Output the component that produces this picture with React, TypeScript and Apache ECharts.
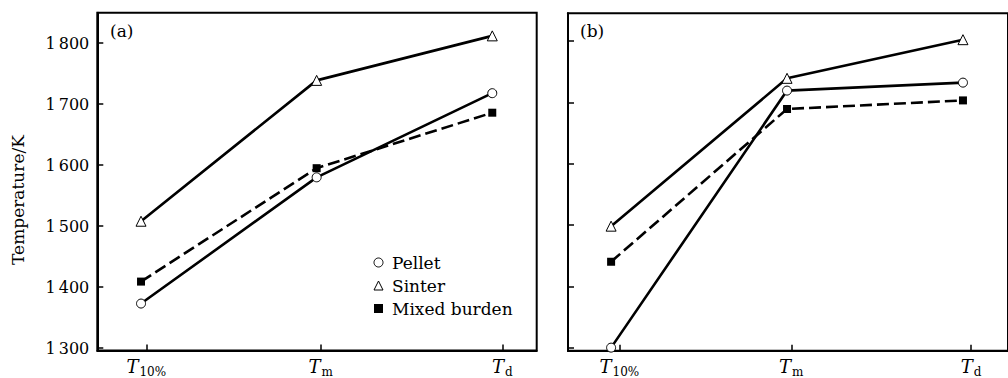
import React, { useEffect, useRef } from "react";
import * as echarts from "echarts";

const categories = ["10%", "m", "d"];
const xPositions = [0, 1, 2];
const tickPositionsA = [0.03, 1.023, 2.057];
const tickPositionsB = [0.047, 1.024, 2.046];
const yTicks = [1300, 1400, 1500, 1600, 1700, 1800];
const seriesNames = ["Pellet", "Sinter", "Mixed burden"];
const pelletA = [1373, 1580, 1718];
const sinterA = [1508, 1739, 1812];
const mixedA = [1409, 1595, 1686];
const pelletB = [1300, 1719, 1732];
const sinterB = [1498, 1739, 1802];
const mixedB = [1440, 1689, 1703];

const FONT = "DejaVu Serif";

function xAxisFor(gridIndex: number, ticks: number[], min: number, max: number) {
  return {
    type: "value",
    gridIndex,
    min,
    max,
    splitLine: { show: false },
    axisLine: { show: true, onZero: false, lineStyle: { color: "#000", width: 2 } },
    axisTick: { show: true, inside: true, length: 6, customValues: ticks, lineStyle: { color: "#000", width: 1.5 } },
    axisLabel: {
      show: true,
      customValues: ticks,
      margin: 7,
      formatter: (v: number) => {
        const i = Math.max(0, Math.min(categories.length - 1, Math.round(v)));
        return "{t|T}{s|" + categories[i] + "}";
      },
      rich: {
        t: { fontFamily: FONT, fontSize: 18, fontStyle: "italic", color: "#000", verticalAlign: "top", lineHeight: 20 },
        s: { fontFamily: FONT, fontSize: 12, color: "#000", verticalAlign: "top", padding: [8, 0, 0, 1], lineHeight: 20 },
      },
    },
  };
}

function yAxisFor(gridIndex: number, min: number, max: number, showLabels: boolean) {
  return {
    type: "value",
    gridIndex,
    min,
    max,
    splitLine: { show: false },
    axisLine: { show: true, onZero: false, lineStyle: { color: "#000", width: 2 } },
    axisTick: { show: true, inside: true, length: 6, customValues: yTicks, lineStyle: { color: "#000", width: 1.5 } },
    axisLabel: {
      show: showLabels,
      customValues: yTicks,
      margin: 8,
      fontFamily: FONT,
      fontSize: 16,
      color: "#000",
      formatter: (v: number) => String(v).replace(/^(\d)(\d{3})$/, "$1\u2009$2"),
    },
  };
}

function lineSeries(name: string, values: number[], axisIndex: number) {
  const idx = seriesNames.indexOf(name);
  const symbol = idx === 0 ? "circle" : idx === 1 ? "triangle" : "rect";
  const symbolSize = idx === 0 ? 9 : idx === 1 ? 10 : 8;
  return {
    type: "line",
    name,
    xAxisIndex: axisIndex,
    yAxisIndex: axisIndex,
    data: xPositions.map((x, i) => [x, values[i]]),
    symbol,
    symbolSize,
    showAllSymbol: true,
    z: 3,
    lineStyle: { color: "#000", width: 2.6, type: idx === 2 ? [12, 5] : "solid" },
    itemStyle: { color: idx === 2 ? "#000" : "#fff", borderColor: "#000", borderWidth: idx === 2 ? 0 : 1 },
  };
}

export default function App() {
  const ref = useRef<HTMLDivElement>(null);
  useEffect(() => {
    if (!ref.current) return;
    const chart = echarts.init(ref.current, undefined, { renderer: "svg" });
    chart.setOption({
      animation: false,
      backgroundColor: "#fff",
      grid: [
        { left: 97.3, top: 12.7, width: 439.4, height: 337.8, show: true, borderColor: "#000", borderWidth: 2, backgroundColor: "transparent" },
        { left: 568, top: 13.3, width: 446, height: 337.4, show: true, borderColor: "#000", borderWidth: 2, backgroundColor: "transparent" },
      ],
      xAxis: [
        xAxisFor(0, tickPositionsA, -0.249, 2.253),
        xAxisFor(1, tickPositionsB, -0.245, 2.256),
      ],
      yAxis: [yAxisFor(0, 1296, 1850, true), yAxisFor(1, 1295, 1845, false)],
      legend: {
        left: 368.5,
        top: 249,
        orient: "vertical",
        itemWidth: 9,
        itemHeight: 9,
        itemGap: 6,
        textStyle: { fontFamily: FONT, fontSize: 17, color: "#000", padding: [0, 0, 0, 4] },
        data: [
          { name: "Pellet", icon: "circle", itemStyle: { color: "#fff", borderColor: "#000", borderWidth: 1 } },
          { name: "Sinter", icon: "triangle", itemStyle: { color: "#fff", borderColor: "#000", borderWidth: 1 } },
          { name: "Mixed burden", icon: "rect", itemStyle: { color: "#000", borderColor: "#000", borderWidth: 0 } },
        ],
      },
      graphic: [
        { type: "text", left: 110, top: 22, style: { text: "(a)", fontFamily: FONT, fontSize: 17, fill: "#000" } },
        { type: "text", left: 580, top: 22, style: { text: "(b)", fontFamily: FONT, fontSize: 17, fill: "#000" } },
        {
          type: "text",
          x: 18,
          y: 200,
          rotation: Math.PI / 2,
          style: { text: "Temperature/K", fontFamily: FONT, fontSize: 17, fill: "#000", align: "center", verticalAlign: "middle" },
        },
      ],
      series: [
        lineSeries("Pellet", pelletA, 0),
        lineSeries("Sinter", sinterA, 0),
        lineSeries("Mixed burden", mixedA, 0),
        lineSeries("Pellet", pelletB, 1),
        lineSeries("Sinter", sinterB, 1),
        lineSeries("Mixed burden", mixedB, 1),
      ],
    });
    return () => chart.dispose();
  }, []);
  return <div ref={ref} style={{ position: "absolute", left: 0, top: 0, width: 1008, height: 378 }} />;
}
